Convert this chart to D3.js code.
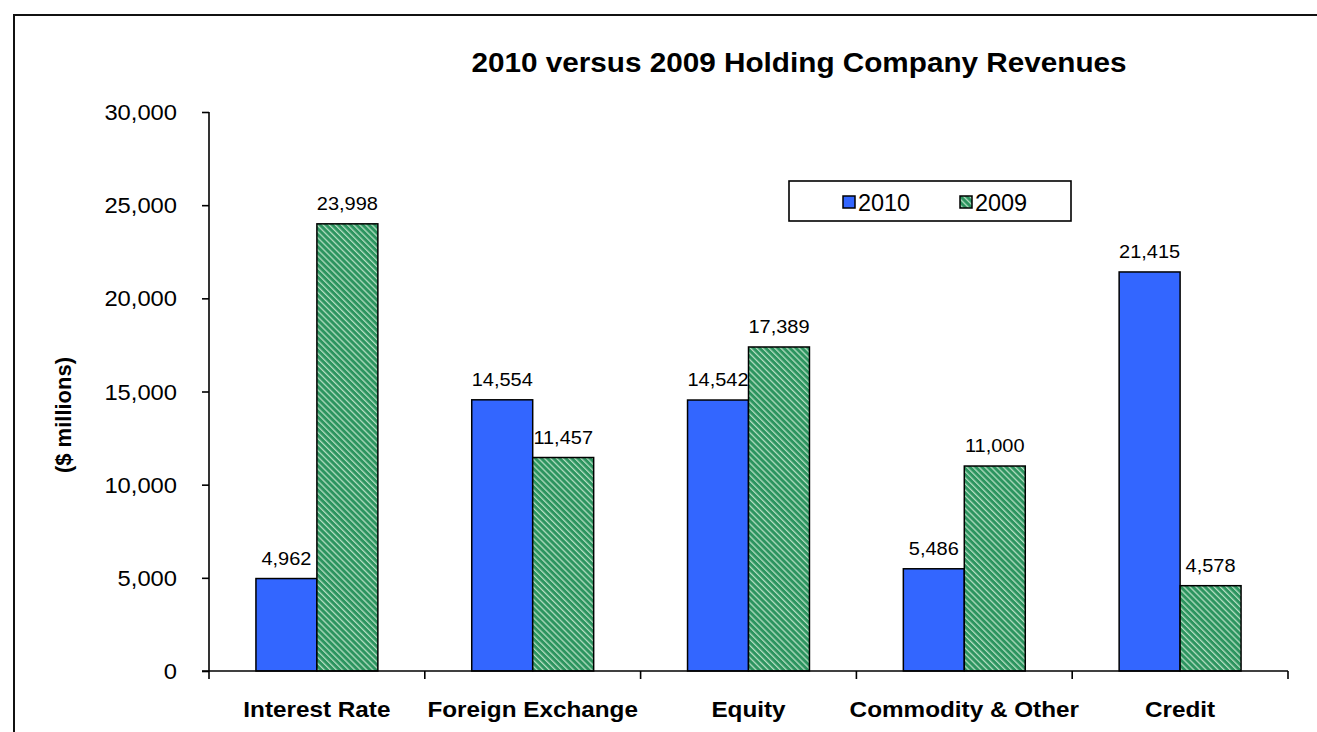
<!DOCTYPE html>
<html>
<head>
<meta charset="utf-8">
<script src="https://cdn.jsdelivr.net/npm/d3@7"></script>
<style>
  html, body { margin: 0; padding: 0; background: #fff; }
  svg { display: block; font-family: "Liberation Sans", Arial, sans-serif; }
</style>
</head>
<body>
<div id="chart"></div>
<script>
// chart data
const categories = ["Interest Rate", "Foreign Exchange", "Equity", "Commodity & Other", "Credit"]
const seriesNames = ["2010", "2009"]
const values2010 = [4962, 14554, 14542, 5486, 21415]
const values2009 = [23998, 11457, 17389, 11000, 4578]
const yTicks = [0, 5000, 10000, 15000, 20000, 25000, 30000]

const W = 1317, H = 732
const plot = { left: 209, right: 1288, top: 112, bottom: 671 }
const sx = 1.08 // text in the original is a bit wide

var svg = d3.select("#chart").append("svg").attr("width", W).attr("height", H)

var defs = svg.append("defs")
var pat = defs.append("pattern").attr("id", "hatch").attr("patternUnits", "userSpaceOnUse")
    .attr("width", 4.3).attr("height", 4.3).attr("patternTransform", "rotate(-45)")
pat.append("rect").attr("width", 4.3).attr("height", 4.3).attr("fill", "#2c945f")
pat.append("rect").attr("x", 0).attr("width", 1.3).attr("height", 4.3).attr("fill", "#b3ddc1")

// outer frame (runs off the page at right and bottom)
svg.append("rect").attr("x", 14).attr("y", 15).attr("width", W).attr("height", H)
    .attr("fill", "none").attr("stroke", "#111").attr("stroke-width", 2)

var x = d3.scaleBand().domain(categories).range([plot.left, plot.right]).padding(0)
var xs = d3.scaleBand().domain(seriesNames).range([0, x.bandwidth()]).paddingInner(0).paddingOuter(0.77)
var y = d3.scaleLinear().domain([0, 30000]).range([plot.bottom, plot.top])

function txt(g, px, py, s, opts) {
    return g.append("text").attr("transform", "translate(" + px + "," + py + ") scale(" + (opts.sx || sx) + ",1)")
        .attr("text-anchor", opts.anchor || "middle")
        .attr("font-size", opts.size).attr("font-weight", opts.bold ? "bold" : "normal")
        .attr("fill", "#000").text(s)
}

// title
txt(svg, 799, 72, "2010 versus 2009 Holding Company Revenues", { size: 27, bold: true, sx: 1.1 })

// y axis
var yAxis = svg.append("g").attr("transform", "translate(" + plot.left + ",0)")
    .call(d3.axisLeft(y).tickValues(yTicks).tickSize(7).tickFormat(""))
yAxis.select(".domain").attr("stroke", "#000").attr("stroke-width", 1.6).attr("d", "M0," + plot.top + "V" + plot.bottom)
yAxis.selectAll(".tick line").attr("stroke", "#000").attr("stroke-width", 1.6)
yTicks.forEach(function(t) {
    txt(svg, 177, y(t) + 8, d3.format(",")(t), { size: 22, anchor: "end" })
})

// y title
svg.append("text").attr("transform", "translate(71,415) rotate(-90)")
    .attr("text-anchor", "middle").attr("font-size", 22).attr("font-weight", "bold").text("($ millions)")

// bars
var series = [
    { name: "2010", values: values2010, fill: "#3366ff" },
    { name: "2009", values: values2009, fill: "url(#hatch)" }
]
var bars = svg.append("g")
series.forEach(function(s) {
    bars.selectAll(null).data(s.values).enter().append("rect")
        .attr("x", (d, i) => x(categories[i]) + xs(s.name))
        .attr("y", d => y(d))
        .attr("width", xs.bandwidth())
        .attr("height", d => y(0) - y(d))
        .attr("fill", s.fill).attr("stroke", "#000").attr("stroke-width", 1.5)
})

// data labels
var labels = svg.append("g")
series.forEach(function(s) {
    s.values.forEach(function(v, i) {
        txt(labels, x(categories[i]) + xs(s.name) + xs.bandwidth() / 2, y(v) - 14, d3.format(",")(v), { size: 18.5 })
    })
})

// x axis
var xAxis = svg.append("g").attr("transform", "translate(0," + plot.bottom + ")")
var bounds = categories.map(c => x(c)).concat([plot.right])
xAxis.append("line").attr("x1", plot.left - 7).attr("x2", plot.right).attr("y1", 0).attr("y2", 0)
    .attr("stroke", "#000").attr("stroke-width", 1.6)
xAxis.selectAll(".xt").data(bounds).enter().append("line").attr("class", "xt")
    .attr("x1", d => d).attr("x2", d => d).attr("y1", 0).attr("y2", 8)
    .attr("stroke", "#000").attr("stroke-width", 1.6)
categories.forEach(function(c) {
    txt(svg, x(c) + x.bandwidth() / 2, 717, c, { size: 22.5, bold: true })
})

// legend
var lg = svg.append("g")
lg.append("rect").attr("x", 789).attr("y", 181).attr("width", 282).attr("height", 40)
    .attr("fill", "#fff").attr("stroke", "#000").attr("stroke-width", 1.6)
var legendX = [843, 960]
series.forEach(function(s, i) {
    lg.append("rect").attr("x", legendX[i]).attr("y", 196).attr("width", 12).attr("height", 12)
        .attr("fill", s.fill).attr("stroke", "#000").attr("stroke-width", 1.5)
    txt(lg, legendX[i] + 15, 211, s.name, { size: 23, anchor: "start", sx: 1.02 })
})
</script>
</body>
</html>
